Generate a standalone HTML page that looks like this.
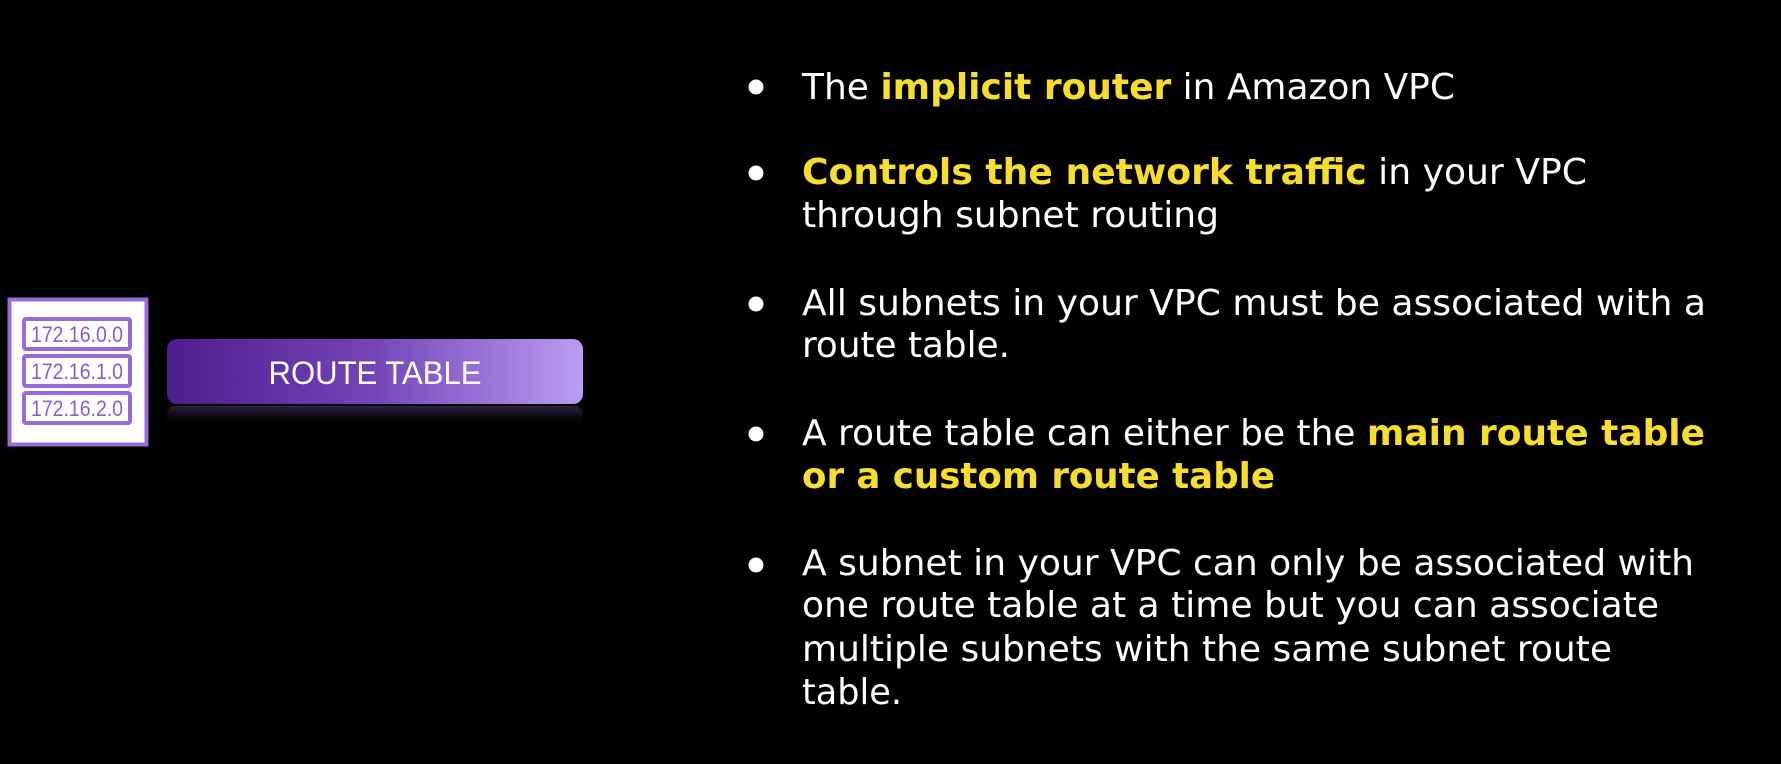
<!DOCTYPE html>
<html><head><meta charset="utf-8"><style>
html,body{margin:0;padding:0;background:#000;width:1781px;height:764px;overflow:hidden}
svg{display:block}
</style></head><body>
<svg width="1781" height="764" viewBox="0 0 1781 764" xmlns="http://www.w3.org/2000/svg">
<defs>
<linearGradient id="g" x1="0" y1="0" x2="1" y2="0">
<stop offset="0" stop-color="#4d1d8e"/><stop offset="0.5" stop-color="#7545b8"/><stop offset="1" stop-color="#bb9cf2"/>
</linearGradient>
<linearGradient id="r" x1="0" y1="0" x2="0" y2="1">
<stop offset="0" stop-color="#3a2a55" stop-opacity="0.8"/><stop offset="1" stop-color="#000" stop-opacity="0"/>
</linearGradient>
</defs>
<rect x="0" y="0" width="1781" height="764" fill="#000"/>
<rect x="9.5" y="299.5" width="137" height="145" fill="#fff" stroke="#9a6ad8" stroke-width="4"/>
<g fill="#fff" stroke="#9a6ad8" stroke-width="4">
<rect x="24" y="319" width="106" height="30" rx="2"/>
<rect x="24" y="356" width="106" height="30" rx="2"/>
<rect x="24" y="393" width="106" height="30" rx="2"/>
</g>
<g font-family="Liberation Sans, sans-serif" font-size="22" fill="#8a5ccf" text-anchor="middle">
<text x="77" y="342" textLength="92" lengthAdjust="spacingAndGlyphs">172.16.0.0</text>
<text x="77" y="379" textLength="92" lengthAdjust="spacingAndGlyphs">172.16.1.0</text>
<text x="77" y="416" textLength="92" lengthAdjust="spacingAndGlyphs">172.16.2.0</text>
</g>
<rect x="167" y="339" width="416" height="65" rx="10" fill="url(#g)"/>
<rect x="167" y="406" width="416" height="22" rx="8" fill="url(#r)"/>
<text x="375" y="384" font-family="Liberation Sans, sans-serif" font-size="32" fill="#fff" text-anchor="middle" textLength="213" lengthAdjust="spacingAndGlyphs">ROUTE TABLE</text>
<g fill="#fff">
<circle cx="756" cy="87" r="7.5"/><circle cx="756" cy="173" r="7.5"/><circle cx="756" cy="304" r="7.5"/><circle cx="756" cy="434" r="7.5"/><circle cx="756" cy="565" r="7.5"/>
</g>
<g font-family="DejaVu Sans, Verdana, sans-serif" font-size="36" fill="#fff">
<text x="802" y="99" textLength="653" lengthAdjust="spacingAndGlyphs">The <tspan font-weight="bold" fill="#f7dd2e">implicit router</tspan> in Amazon VPC</text>
<text x="802" y="184" textLength="785" lengthAdjust="spacingAndGlyphs"><tspan font-weight="bold" fill="#f7dd2e">Controls the network traffic</tspan> in your VPC</text>
<text x="802" y="227" textLength="417" lengthAdjust="spacingAndGlyphs">through subnet routing</text>
<text x="802" y="315" textLength="904" lengthAdjust="spacingAndGlyphs">All subnets in your VPC must be associated with a</text>
<text x="802" y="357" textLength="208" lengthAdjust="spacingAndGlyphs">route table.</text>
<text x="802" y="445" textLength="903" lengthAdjust="spacingAndGlyphs">A route table can either be the <tspan font-weight="bold" fill="#f7dd2e">main route table</tspan></text>
<text x="802" y="488" textLength="473" lengthAdjust="spacingAndGlyphs" font-weight="bold" fill="#f7dd2e">or a custom route table</text>
<text x="802" y="575" textLength="892" lengthAdjust="spacingAndGlyphs">A subnet in your VPC can only be associated with</text>
<text x="802" y="617" textLength="857" lengthAdjust="spacingAndGlyphs">one route table at a time but you can associate</text>
<text x="802" y="661" textLength="810" lengthAdjust="spacingAndGlyphs">multiple subnets with the same subnet route</text>
<text x="802" y="704" textLength="100" lengthAdjust="spacingAndGlyphs">table.</text>
</g>
</svg>
</body></html>
